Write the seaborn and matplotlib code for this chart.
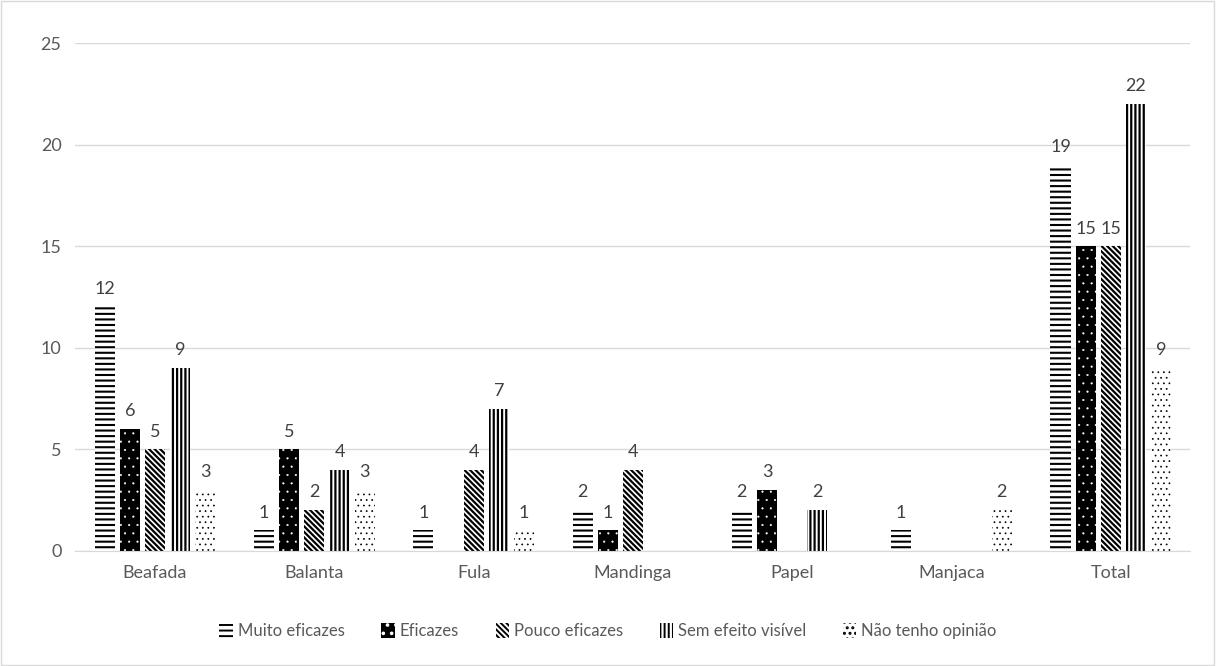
import matplotlib
matplotlib.use("Agg")
import matplotlib.pyplot as plt
import seaborn as sns
import pandas as pd

groups = ["Beafada", "Balanta", "Fula", "Mandinga", "Papel", "Manjaca", "Total"]
series = ["Muito eficazes", "Eficazes", "Pouco eficazes", "Sem efeito visível", "Não tenho opinião"]
muito_eficazes = [12, 1, 1, 2, 2, 1, 19]
eficazes = [6, 5, 0, 1, 3, 0, 15]
pouco_eficazes = [5, 2, 4, 4, 0, 0, 15]
sem_efeito = [9, 4, 7, 0, 2, 0, 22]
sem_opiniao = [3, 3, 1, 0, 0, 2, 9]

values = [muito_eficazes, eficazes, pouco_eficazes, sem_efeito, sem_opiniao]
rows = []
for name, vals in zip(series, values):
    for g, v in zip(groups, vals):
        rows.append({"grupo": g, "serie": name, "valor": v})
df = pd.DataFrame(rows)

sns.set_style("white")
plt.rcParams["font.family"] = ["Lato", "DejaVu Sans"]
plt.rcParams["hatch.linewidth"] = 1.4

fig = plt.figure(figsize=(12.16, 6.66), dpi=100)
ax = fig.add_axes([0.062, 0.173, 0.917, 0.762])

sns.barplot(data=df, x="grupo", y="valor", hue="serie", order=groups,
            hue_order=series, width=0.79, gap=0.2, legend=False, ax=ax,
            errorbar=None)

# pattern per series: (facecolor, hatch, hatch colour, hatch linewidth)
styles = [
    ("white", "---", "black", 1.5),
    ("black", "..", "white", 0.3),
    ("white", "\\\\\\\\\\\\", "black", 1.6),
    ("white", "||||", "black", 1.6),
    ("white", "...", "black", 0.5),
]
for cont, (fc, hatch, hc, hlw) in zip(ax.containers, styles):
    for p in cont.patches:
        p.set_facecolor(fc)
        p.set_hatch(hatch)
        p.set_edgecolor(hc)
        p.set_linewidth(0)
        if hasattr(p, "set_hatch_linewidth"):
            p.set_hatch_linewidth(hlw)
    labels = [f"{v:g}" if v > 0 else "" for v in cont.datavalues]
    ax.bar_label(cont, labels=labels, padding=7, fontsize=13, color="#404040")

ax.set_ylim(0, 25)
ax.set_yticks([0, 5, 10, 15, 20, 25])
ax.yaxis.grid(True, color="#d9d9d9", linewidth=1)
ax.set_axisbelow(True)
ax.set_xlabel("")
ax.set_ylabel("")
for s in ["top", "right", "left"]:
    ax.spines[s].set_visible(False)
ax.spines["bottom"].set_color("#d9d9d9")
ax.tick_params(axis="both", length=0, labelsize=13, colors="#595959", pad=10)
ax.set_xlim(-0.5, 6.5)

handles = [c.patches[0] for c in ax.containers]
leg = fig.legend(handles=handles, labels=series, loc="center",
                 bbox_to_anchor=(0.5, 0.052), ncol=5, frameon=False,
                 fontsize=12, handlelength=0.8, handleheight=1.0,
                 handletextpad=0.3, columnspacing=2.2)
for t in leg.get_texts():
    t.set_color("#595959")

fig.patches.append(plt.Rectangle((0.001, 0.001), 0.997, 0.997, transform=fig.transFigure,
                                 fill=False, edgecolor="#d9d9d9", linewidth=1))

fig.savefig("out.png", dpi=100)
